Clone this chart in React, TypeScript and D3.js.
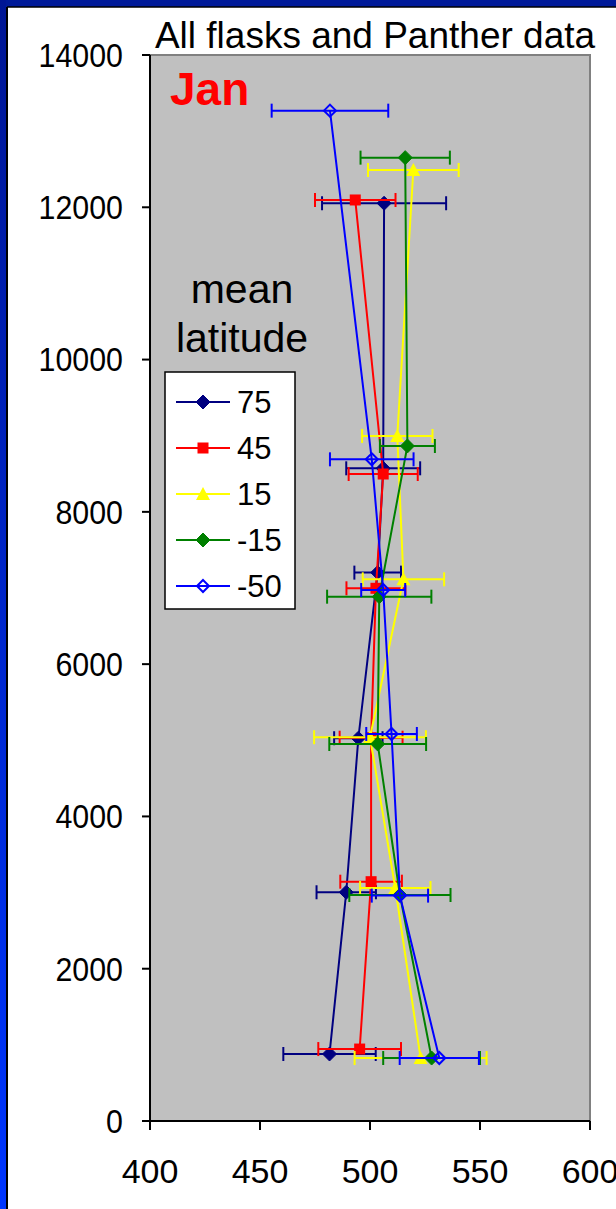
import React from "react";
import * as d3 from "d3";

// Altitude (m) of each sampling level, per mean-latitude band
const latitudes = ["75", "45", "15", "-15", "-50"];
const colors = ["#000080", "#ff0000", "#ffff00", "#008000", "#0000ff"];
const markers = ["diamond", "square", "triangle", "diamond", "openDiamond"];

const alt75 = [880, 3004, 5027, 7202, 8572, 12053];
const val75 = [481.6, 489.2, 494.7, 503.5, 506, 506.4];
const err75 = [21, 13.5, 11, 10.6, 16.8, 28.2];

const alt45 = [945, 3143, 5034, 6996, 8497, 12096];
const val45 = [495.3, 500.5, 500.5, 502.7, 506, 493.3];
const err45 = [18.8, 14, 14.3, 13.4, 15.7, 18.3];

const alt15 = [827, 3060, 5040, 7114, 8997, 12490];
const val15 = [523, 511.5, 500, 515.2, 512.4, 519.7];
const err15 = [30, 16, 25.4, 18.5, 16, 20.6];

const altM15 = [827, 2968, 4951, 6886, 8865, 12652];
const valM15 = [528, 513.6, 503.5, 504.2, 517, 516];
const errM15 = [22, 23, 22, 23.7, 12.5, 20.3];

const altM50 = [827, 2960, 5083, 6974, 8690, 13269];
const valM50 = [531.5, 513.6, 509.8, 506, 500.8, 481.8];
const errM50 = [18, 12.8, 11.5, 10, 19, 26.5];

const xTicks = [400, 450, 500, 550, 600];
const yTicks = [0, 2000, 4000, 6000, 8000, 10000, 12000, 14000];

const seriesAlts = [alt75, alt45, alt15, altM15, altM50];
const seriesVals = [val75, val45, val15, valM15, valM50];
const seriesErrs = [err75, err45, err15, errM15, errM50];

const W = 616;
const H = 1209;
const plot = { left: 150, right: 590, top: 55, bottom: 1121 };
const FONT = "Liberation Sans, Arial, sans-serif";

function Marker({ kind, x, y, color }: { kind: string; x: number; y: number; color: string }) {
  if (kind === "diamond") {
    const r = 7;
    return <path d={`M${x},${y - r}L${x + r},${y}L${x},${y + r}L${x - r},${y}Z`} fill={color} stroke={color} strokeWidth={1} />;
  }
  if (kind === "openDiamond") {
    const r = 6;
    return <path d={`M${x},${y - r}L${x + r},${y}L${x},${y + r}L${x - r},${y}Z`} fill="none" stroke={color} strokeWidth={2} />;
  }
  if (kind === "square") {
    const s = 11;
    return <rect x={x - s / 2} y={y - s / 2} width={s} height={s} fill={color} />;
  }
  // triangle
  const r = 7;
  return <path d={`M${x},${y - r}L${x + r},${y + r * 0.85}L${x - r},${y + r * 0.85}Z`} fill={color} />;
}

export default function App() {
  const x = d3.scaleLinear().domain([400, 600]).range([plot.left, plot.right]);
  const y = d3.scaleLinear().domain([0, 14000]).range([plot.bottom, plot.top]);
  const line = d3
    .line<[number, number]>()
    .x((d) => x(d[0]))
    .y((d) => y(d[1]));

  const legendX = 165;
  const legendY = 372;
  const legendRowH = 46;

  return (
    <svg
      width={W}
      height={H}
      style={{ position: "absolute", left: 0, top: 0, display: "block" }}
      fontFamily={FONT}
    >
      <defs>
        <linearGradient id="leftBand" x1="0" y1="0" x2="0" y2="1">
          <stop offset="0" stopColor="#001694" />
          <stop offset="1" stopColor="#0036ff" />
        </linearGradient>
      </defs>
      <rect x={0} y={0} width={W} height={H} fill="#ffffff" />
      {/* frame */}
      <rect x={0} y={0} width={W} height={7} fill="#001a99" />
      <rect x={0} y={0} width={6} height={H} fill="url(#leftBand)" />
      <line x1={7} y1={7} x2={7} y2={H} stroke="#000" strokeWidth={2} />
      <line x1={7} y1={7} x2={W} y2={7} stroke="#000" strokeWidth={1.5} />

      {/* plot area */}
      <rect
        x={plot.left}
        y={plot.top}
        width={plot.right - plot.left}
        height={plot.bottom - plot.top}
        fill="#c0c0c0"
        stroke="#808080"
        strokeWidth={2}
      />
      <line x1={plot.left} y1={plot.top} x2={plot.left} y2={plot.bottom} stroke="#000" strokeWidth={2} />
      <line x1={plot.left} y1={plot.bottom} x2={plot.right} y2={plot.bottom} stroke="#000" strokeWidth={2} />

      {/* y axis */}
      {yTicks.map((t) => (
        <g key={`y${t}`}>
          <line x1={plot.left - 8} x2={plot.left} y1={y(t)} y2={y(t)} stroke="#000" strokeWidth={2} />
          <text
            x={123}
            y={y(t)}
            dy="0.36em"
            textAnchor="end"
            fontSize={33}
            fill="#000"
            transform={`translate(123,0) scale(0.92,1) translate(-123,0)`}
          >
            {t}
          </text>
        </g>
      ))}
      {/* x axis */}
      {xTicks.map((t) => (
        <g key={`x${t}`}>
          <line x1={x(t)} x2={x(t)} y1={plot.bottom} y2={plot.bottom + 9} stroke="#000" strokeWidth={2} />
          <text x={x(t)} y={1183} textAnchor="middle" fontSize={34} fill="#000">
            {t}
          </text>
        </g>
      ))}

      {/* series */}
      {latitudes.map((lat, i) => {
        const pts: [number, number][] = seriesVals[i].map((v, j) => [v, seriesAlts[i][j]]);
        const c = colors[i];
        return (
          <g key={lat}>
            <path d={line(pts) || ""} fill="none" stroke={c} strokeWidth={2} />
            {pts.map(([v, a], j) => {
              const e = seriesErrs[i][j];
              const yy = y(a);
              return (
                <g key={j}>
                  <line x1={x(v - e)} x2={x(v + e)} y1={yy} y2={yy} stroke={c} strokeWidth={2} />
                  <line x1={x(v - e)} x2={x(v - e)} y1={yy - 7} y2={yy + 7} stroke={c} strokeWidth={2} />
                  <line x1={x(v + e)} x2={x(v + e)} y1={yy - 7} y2={yy + 7} stroke={c} strokeWidth={2} />
                </g>
              );
            })}
            {pts.map(([v, a], j) => (
              <Marker key={`m${j}`} kind={markers[i]} x={x(v)} y={y(a)} color={c} />
            ))}
          </g>
        );
      })}

      {/* titles */}
      <text x={375} y={48} textAnchor="middle" fontSize={37} fill="#000">
        All flasks and Panther data
      </text>
      <text x={170} y={105} fontSize={46} fontWeight="bold" fill="#ff0000">
        Jan
      </text>
      <text x={242} y={303} textAnchor="middle" fontSize={41} fill="#000">
        mean
      </text>
      <text x={242} y={352} textAnchor="middle" fontSize={41} fill="#000">
        latitude
      </text>

      {/* legend */}
      <rect x={legendX} y={legendY} width={130} height={237} fill="#ffffff" stroke="#000" strokeWidth={1.5} />
      {latitudes.map((lat, i) => {
        const cy = legendY + 30 + i * legendRowH;
        return (
          <g key={`lg${lat}`}>
            <line x1={176} x2={230} y1={cy} y2={cy} stroke={colors[i]} strokeWidth={2} />
            <Marker kind={markers[i]} x={203} y={cy} color={colors[i]} />
            <text x={237} y={cy} dy="0.36em" fontSize={31} fill="#000">
              {lat}
            </text>
          </g>
        );
      })}
    </svg>
  );
}
